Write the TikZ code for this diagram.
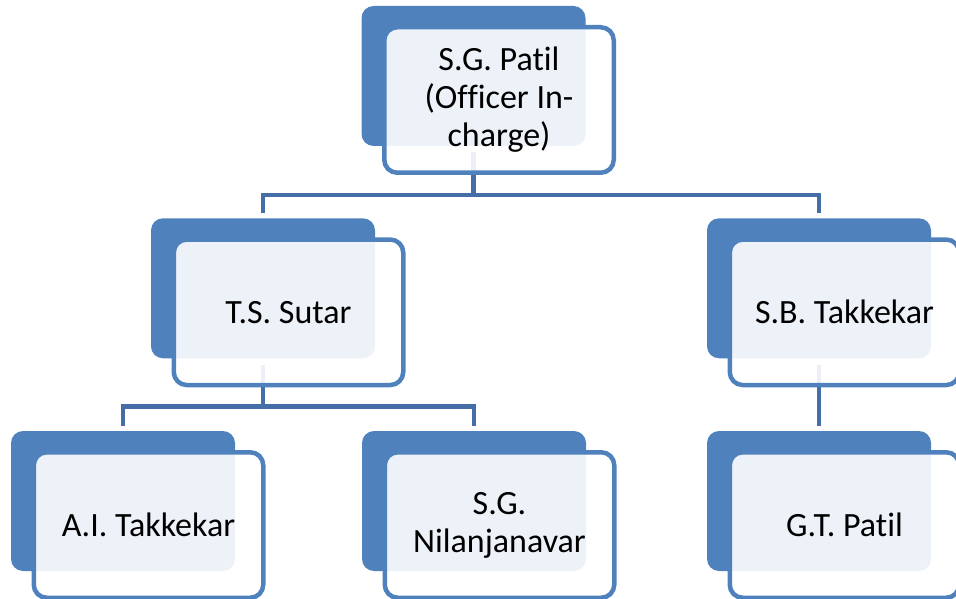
\documentclass[tikz,border=0pt]{standalone}
\usepackage{fontspec}
\setmainfont{Carlito}[Ligatures=NoCommon]
\definecolor{boxblue}{RGB}{79,129,189}
\definecolor{lineblue}{RGB}{68,110,165}
\tikzset{
  backbox/.style={rectangle, rounded corners=12pt, fill=boxblue, minimum width=224pt, minimum height=140pt, inner sep=0pt},
  frontbox/.style={rectangle, rounded corners=13pt, draw=boxblue, line width=4.5pt, fill=white, fill opacity=0.9, text opacity=1,
    minimum width=229.5pt, minimum height=145.5pt, inner sep=0pt, align=center, font=\fontsize{34}{38}\selectfont,
    xshift=25.5pt, yshift=-24pt},
  conn/.style={draw=lineblue, line width=4.8pt, shorten <=6pt, shorten >=5pt}
}
\begin{document}
\begin{tikzpicture}[x=1pt, y=-1pt]
    \useasboundingbox (0,0) rectangle (956,599);
    % back plates
    \node[backbox] (patilb) at (473.5,76) {};
    \node[backbox] (sutarb) at (263,288.3) {};
    \node[backbox] (sbtakb) at (819,288.3) {};
    \node[backbox] (aitakb) at (123,501) {};
    \node[backbox] (nilanb) at (474,501) {};
    \node[backbox] (gtpatb) at (819,501) {};

    \coordinate (bus1) at (0,195);
    \coordinate (bus2) at (0,406.5);
    \draw[conn] (patilb.south) -- (patilb.south |- bus1) -| (sutarb.north);
    \draw[conn] (patilb.south) -- (patilb.south |- bus1) -| (sbtakb.north);
    \draw[conn] (sutarb.south) -- (sutarb.south |- bus2) -| (aitakb.north);
    \draw[conn] (sutarb.south) -- (sutarb.south |- bus2) -| (nilanb.north);
    \draw[conn] (sbtakb.south) -- (gtpatb.north);

    % front plates
    \node[frontbox] (patil) at (patilb.center) {S.G. Patil\\(Officer In-\\charge)};
    \node[frontbox] (sutar) at (sutarb.center) {T.S. Sutar};
    \node[frontbox] (sbtak) at (sbtakb.center) {S.B. Takkekar};
    \node[frontbox] (aitak) at (aitakb.center) {A.I. Takkekar};
    \node[frontbox] (nilan) at (nilanb.center) {S.G.\\Nilanjanavar};
    \node[frontbox] (gtpat) at (gtpatb.center) {G.T. Patil};
  \end{tikzpicture}
\end{document}
